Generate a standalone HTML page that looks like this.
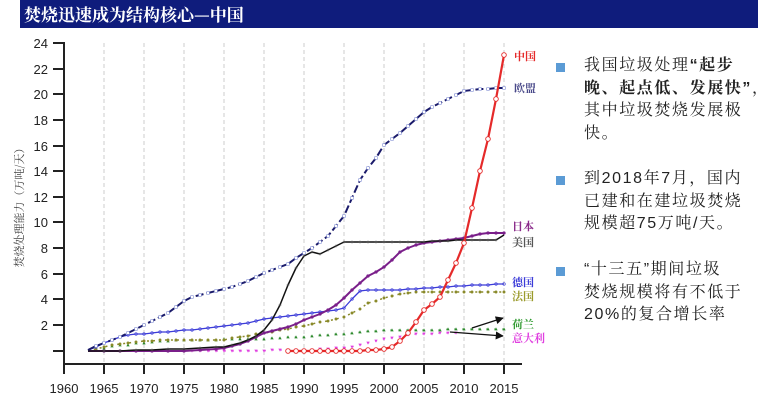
<!DOCTYPE html>
<html><head><meta charset="utf-8"><style>
body{margin:0;width:764px;height:405px;background:#fff;overflow:hidden;position:relative;font-family:"Liberation Sans","Noto Serif CJK SC",serif}
.bar{position:absolute;left:20px;top:0;width:738px;height:28px;background:#0f1c7c;color:#fff;font:bold 17px "Noto Serif CJK SC",serif;line-height:28px;padding-left:4px;box-sizing:border-box}
.t{position:absolute;left:584px;width:185px;white-space:nowrap;font:16px "Liberation Sans","Noto Serif CJK SC",serif;letter-spacing:1.6px;line-height:22.5px;color:#222}
.b{position:absolute;left:556px;width:9px;height:9px;background:#5b9bd5}
</style></head><body>
<div class="bar">焚烧迅速成为结构核心—中国</div>
<svg width="764" height="405" style="position:absolute;left:0;top:0">
<defs>
<marker id="mr" markerUnits="userSpaceOnUse" viewBox="0 0 6 6" refX="3" refY="3" markerWidth="6" markerHeight="6"><circle cx="3" cy="3" r="2.3" fill="#fff" stroke="#e52a2a" stroke-width="0.9"/></marker>
<marker id="me" markerUnits="userSpaceOnUse" viewBox="0 0 6 6" refX="3" refY="3" markerWidth="4" markerHeight="4"><rect x="1" y="1" width="4" height="4" fill="#fff" stroke="#8f9ad8"/></marker>
<marker id="mb" markerUnits="userSpaceOnUse" viewBox="0 0 6 6" refX="3" refY="3" markerWidth="4" markerHeight="4"><path d="M1 3H5M3 1V5" stroke="#444"/></marker>
<marker id="mp" markerUnits="userSpaceOnUse" viewBox="0 0 6 6" refX="3" refY="3" markerWidth="4" markerHeight="4"><circle cx="3" cy="3" r="2.5" fill="#7a1f8a"/></marker>
<marker id="mg" markerUnits="userSpaceOnUse" viewBox="0 0 6 6" refX="3" refY="3" markerWidth="3.5" markerHeight="3.5"><circle cx="3" cy="3" r="2.3" fill="none" stroke="#3b3bd8"/></marker>
<marker id="mf" markerUnits="userSpaceOnUse" viewBox="0 0 6 6" refX="3" refY="3" markerWidth="3.5" markerHeight="3.5"><circle cx="3" cy="3" r="2.5" fill="#8a8a2a"/></marker>
<marker id="mn" markerUnits="userSpaceOnUse" viewBox="0 0 6 6" refX="3" refY="3" markerWidth="4" markerHeight="4"><path d="M3 0.5L5.5 5H0.5Z" fill="#2e8a2e"/></marker>
<marker id="mi" markerUnits="userSpaceOnUse" viewBox="0 0 6 6" refX="3" refY="3" markerWidth="4" markerHeight="4"><path d="M0.5 1H5.5L3 5.5Z" fill="#e040e0"/></marker>
<marker id="ar" markerUnits="userSpaceOnUse" viewBox="0 0 10 10" refX="9" refY="5" markerWidth="10" markerHeight="8" orient="auto"><path d="M0 0L10 5L0 10Z" fill="#111"/></marker>
</defs>
<g stroke="#ccc" stroke-dasharray="4,3" stroke-width="1">
<line x1="104" y1="43" x2="104" y2="363"/><line x1="144" y1="43" x2="144" y2="363"/><line x1="184" y1="43" x2="184" y2="363"/><line x1="224" y1="43" x2="224" y2="363"/><line x1="264" y1="43" x2="264" y2="363"/><line x1="304" y1="43" x2="304" y2="363"/><line x1="344" y1="43" x2="344" y2="363"/><line x1="384" y1="43" x2="384" y2="363"/><line x1="424" y1="43" x2="424" y2="363"/><line x1="464" y1="43" x2="464" y2="363"/><line x1="504" y1="43" x2="504" y2="363"/>
</g>
<g stroke="#222" stroke-width="2">
<line x1="64" y1="42" x2="64" y2="365"/><line x1="63" y1="364" x2="522" y2="364"/>
<path d="M53 43H64M53 69H64M53 94H64M53 120H64M53 146H64M53 171H64M53 197H64M53 222H64M53 248H64M53 274H64M53 299H64M53 325H64M53 351H64"/>
<path d="M64 364V374M104 364V374M144 364V374M184 364V374M224 364V374M264 364V374M304 364V374M344 364V374M384 364V374M424 364V374M464 364V374M504 364V374"/>
</g>
<g font-size="13" fill="#222" text-anchor="end" font-family="Liberation Sans,sans-serif">
<text x="48" y="48">24</text><text x="48" y="74">22</text><text x="48" y="99">20</text><text x="48" y="125">18</text><text x="48" y="151">16</text><text x="48" y="176">14</text><text x="48" y="202">12</text><text x="48" y="227">10</text><text x="48" y="253">8</text><text x="48" y="279">6</text><text x="48" y="304">4</text><text x="48" y="330">2</text>
</g>
<g font-size="13" fill="#222" text-anchor="middle" font-family="Liberation Sans,sans-serif">
<text x="64" y="393">1960</text><text x="104" y="393">1965</text><text x="144" y="393">1970</text><text x="184" y="393">1975</text><text x="224" y="393">1980</text><text x="264" y="393">1985</text><text x="304" y="393">1990</text><text x="344" y="393">1995</text><text x="384" y="393">2000</text><text x="424" y="393">2005</text><text x="464" y="393">2010</text><text x="504" y="393">2015</text>
</g>
<text transform="translate(23,205) rotate(-90)" font-size="11" fill="#444" text-anchor="middle" font-family="Noto Serif CJK SC,serif">焚烧处理能力（万吨/天）</text>
<g fill="none" stroke-linejoin="round">
<polyline stroke="#2e8a2e" stroke-width="1" stroke-dasharray="1,7" marker-mid="url(#mn)" marker-end="url(#mn)" points="88,351 96,349 104,348 112,346 120,345 128,345 136,343 144,343 152,342 160,341 168,341 176,340 184,340 192,340 200,340 208,340 216,340 224,339 232,339 240,339 248,339 256,339 264,339 272,338 280,338 288,337 296,337 304,337 312,336 320,335 328,335 336,334 344,334 352,333 360,332 368,331 376,331 384,330 392,330 400,330 408,330 416,330 424,330 432,330 440,330 448,329 456,329 464,329 472,329 480,329 488,329 496,329 504,329"/>
<polyline stroke="#e040e0" stroke-width="1" stroke-dasharray="2,6" marker-mid="url(#mi)" points="184,351 192,351 200,351 208,351 216,351 224,351 232,351 240,351 248,351 256,351 264,351 272,350 280,350 288,350 296,350 304,350 312,350 320,349 328,349 336,348 344,348 352,347 360,345 368,343 376,341 384,339 392,338 400,337 408,335 416,334 424,334 432,334 440,333 448,333 456,333 464,333"/>
<polyline stroke="#8a8a2a" stroke-width="1.5" stroke-dasharray="2,4" marker-mid="url(#mf)" marker-end="url(#mf)" points="88,351 96,349 104,347 112,345 120,344 128,343 136,342 144,341 152,341 160,340 168,340 176,340 184,340 192,340 200,340 208,340 216,340 224,340 232,338 240,337 248,336 256,334 264,333 272,332 280,330 288,329 296,327 304,326 312,324 320,322 328,321 336,319 344,317 352,313 360,309 368,303 376,301 384,298 392,296 400,294 408,293 416,292 424,292 432,292 440,292 448,292 456,292 464,292 472,292 480,292 488,292 496,292 504,292"/>
<polyline stroke="#3b3bd8" stroke-width="1.3" marker-mid="url(#mg)" marker-end="url(#mg)" points="88,350 96,347 104,343 112,340 120,337 128,335 136,334 144,334 152,333 160,332 168,332 176,331 184,330 192,330 200,329 208,328 216,327 224,326 232,325 240,324 248,323 256,321 264,319 272,318 280,317 288,316 296,315 304,314 312,313 320,312 328,311 336,310 344,308 352,299 360,291 368,290 376,290 384,290 392,290 400,290 408,289 416,289 424,288 432,288 440,287 448,287 456,286 464,286 472,285 480,285 488,285 496,284 504,284"/>
<polyline stroke="#7a1f8a" stroke-width="2" marker-mid="url(#mp)" marker-end="url(#mp)" points="88,351 104,351 120,351 136,351 152,351 168,351 184,351 200,350 216,349 224,348 232,346 240,344 248,341 256,337 264,333 272,331 280,329 288,327 296,324 304,320 312,317 320,314 328,310 336,305 344,298 352,290 360,283 368,276 376,272 384,267 392,260 400,252 408,248 416,245 424,243 432,242 440,241 448,240 456,239 464,238 472,236 480,234 488,233 496,233 504,233"/>
<polyline stroke="#111" stroke-width="1.5" marker-mid="url(#mb)" points="88,351 104,351 120,351 136,350 152,350 168,349 184,349 200,348 216,347 224,347 232,345 240,343 248,340 256,336 264,330 272,320 280,305 288,285 296,268 304,256 312,252 320,254 328,250 336,246 344,242 352,242 360,242 368,242 376,242 384,242 392,242 400,242 408,242 416,242 424,242 432,241 440,241 448,241 456,240 464,240 472,240 480,240 488,240 496,240 504,235"/>
<polyline stroke="#1a1a6a" stroke-width="2" stroke-dasharray="8,3" marker-mid="url(#me)" marker-end="url(#me)" points="88,350 96,346 104,343 112,340 120,337 128,333 136,329 144,325 152,321 160,317 168,313 176,307 184,301 192,297 200,295 208,293 216,291 224,289 232,287 240,284 248,281 256,277 264,273 272,270 280,267 288,264 296,258 304,253 312,248 320,242 328,236 336,226 344,216 352,198 360,180 368,168 376,158 384,145 392,139 400,133 408,126 416,119 424,112 432,107 440,103 448,99 456,95 464,91 472,90 480,89 488,89 496,88 504,88"/>
<polyline stroke="#e52a2a" stroke-width="2.2" marker-start="url(#mr)" marker-mid="url(#mr)" marker-end="url(#mr)" points="288,351 296,351 304,351 312,351 320,351 328,351 336,351 344,351 352,351 360,351 368,350 376,350 384,349 392,347 400,341 408,333 416,322 424,310 432,304 440,297 448,280 456,263 464,243 472,208 480,171 488,139 496,99 504,55"/>
<line x1="472" y1="328" x2="503" y2="318" stroke="#111" stroke-width="1.3" marker-end="url(#ar)"/>
<line x1="450" y1="332" x2="503" y2="336" stroke="#111" stroke-width="1.3" marker-end="url(#ar)"/>
</g>
<g font-size="11" font-family="Noto Serif CJK SC,serif" font-weight="bold">
<text x="514" y="60" fill="#e52a2a">中国</text>
<text x="514" y="92" fill="#4a4a8a">欧盟</text>
<text x="512" y="230" fill="#8a2a8a">日本</text>
<text x="512" y="246" fill="#555">美国</text>
<text x="512" y="286" fill="#3b3bd8">德国</text>
<text x="512" y="300" fill="#9a9a2a">法国</text>
<text x="512" y="328" fill="#2e9a2e">荷兰</text>
<text x="512" y="342" fill="#e040e0">意大利</text>
</g>
</svg>
<div class="b" style="top:63px"></div>
<div class="t" style="top:55px">我国垃圾处理<b>“起步</b><br><b>晚、起点低、发展快”</b>，<br>其中垃圾焚烧发展极<br>快。</div>
<div class="b" style="top:176px"></div>
<div class="t" style="top:168px">到2018年7月，国内<br>已建和在建垃圾焚烧<br>规模超75万吨/天。</div>
<div class="b" style="top:267px"></div>
<div class="t" style="top:259px">“十三五”期间垃圾<br>焚烧规模将有不低于<br>20%的复合增长率</div>
</body></html>
